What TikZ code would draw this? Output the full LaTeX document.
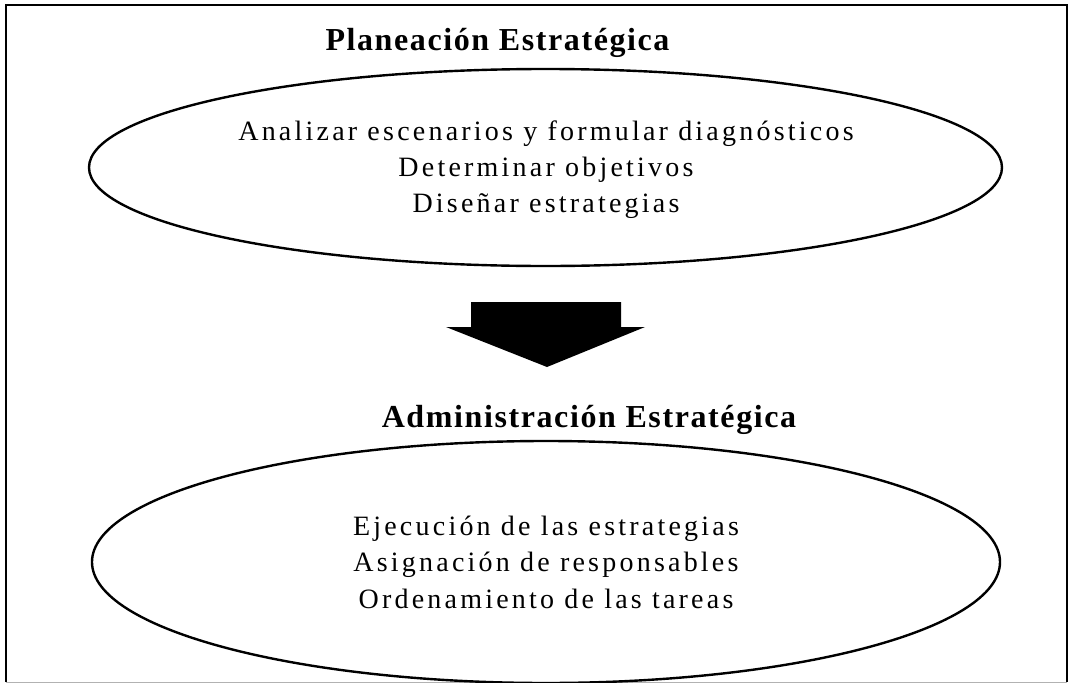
\documentclass[tikz,border=0pt]{standalone}
\usepackage{fontspec}
\setmainfont{Liberation Serif}
\newfontfamily\bodyfont[LetterSpace=11.5]{Liberation Serif}
\newfontfamily\titlefont[LetterSpace=5]{Liberation Serif}
\usetikzlibrary{positioning,shapes.geometric}

\begin{document}
\begin{tikzpicture}[x=1pt,y=-1pt]
\tikzstyle{elip}=[draw,ellipse,line width=2.4pt,inner sep=0pt];
\tikzstyle{titulo}=[anchor=base,inner sep=0pt,font=\titlefont\bfseries\fontsize{32}{38}\selectfont];
\tikzstyle{linea}=[anchor=base,inner sep=0pt,font=\bodyfont\fontsize{28}{36}\selectfont];

\useasboundingbox (0,0) rectangle (1072,683);

\begin{scope}
        % marco
        \draw[line width=2pt] (6,682) -- (6,5) -- (1067,5) -- (1067,682);
        \draw[gray!60,line width=1pt] (6,682) -- (1067,682);

        \node[titulo] (tplan) at (497.5,50) {Planeación Estratégica};
        \node[elip,minimum width=913,minimum height=197] (plan) at (545.5,167.5) {};
        \node[linea] (p1) at (546,140) {Analizar escenarios y formular diagnósticos};
        \node[linea] (p2) at (546,176) {Determinar objetivos};
        \node[linea] (p3) at (546,212) {Diseñar estrategias};

        % flecha
        \fill (471,302) -- (621,302) -- (621,327) -- (645,327) -- (547,367) -- (446,327) -- (471,327) -- cycle;

        \node[titulo] (tadm) at (589,427) {Administración Estratégica};
        \node[elip,minimum width=908,minimum height=242] (adm) at (546,562) {};
        \node[linea] (a1) at (546,535) {Ejecución de las estrategias};
        \node[linea] (a2) at (546,571) {Asignación de responsables};
        \node[linea] (a3) at (546,608) {Ordenamiento de las tareas};
\end{scope}

\end{tikzpicture}
\end{document}
